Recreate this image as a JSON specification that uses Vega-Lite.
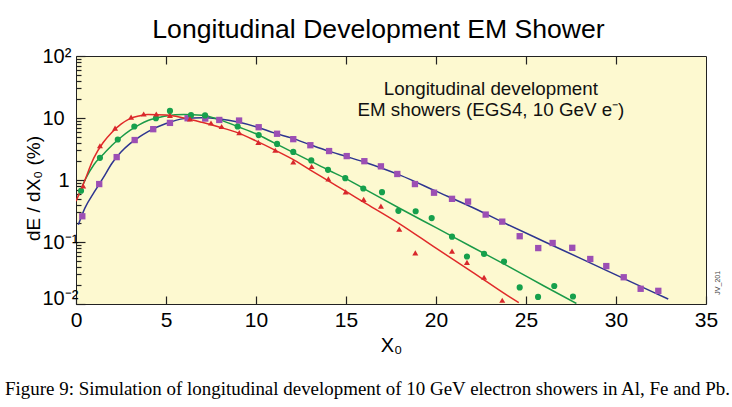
{
  "$schema": "https://vega.github.io/schema/vega-lite/v6.json",
  "width": 630,
  "height": 248,
  "autosize": {"type": "none"},
  "padding": {"left": 76, "top": 56, "right": 26, "bottom": 103},
  "background": "white",
  "config": {
    "font": "Liberation Sans",
    "view": {"fill": "#fdf9d0", "stroke": "#222222", "strokeWidth": 1}
  },
  "title": {
    "text": "Figure 9: Simulation of longitudinal development of 10 GeV electron showers in Al, Fe and Pb.",
    "orient": "bottom",
    "anchor": "start",
    "frame": "group",
    "dx": -71,
    "offset": 25,
    "font": "Liberation Serif",
    "fontSize": 18.95,
    "fontWeight": "normal",
    "color": "#000000"
  },
  "datasets": {
    "points": [
      {"material": "Pb", "x0": 0.35, "dE": 0.26}, {"material": "Pb", "x0": 1.29, "dE": 0.86}, {"material": "Pb", "x0": 2.26, "dE": 2.34}, {"material": "Pb", "x0": 3.26, "dE": 4.41}, {"material": "Pb", "x0": 4.29, "dE": 6.6}, {"material": "Pb", "x0": 5.22, "dE": 8.34}, {"material": "Pb", "x0": 6.2, "dE": 9.9}, {"material": "Pb", "x0": 7.18, "dE": 9.8}, {"material": "Pb", "x0": 7.96, "dE": 9.3}, {"material": "Pb", "x0": 9.06, "dE": 9.1}, {"material": "Pb", "x0": 10.15, "dE": 7.1}, {"material": "Pb", "x0": 11.17, "dE": 5.57}, {"material": "Pb", "x0": 12.07, "dE": 4.56}, {"material": "Pb", "x0": 13.02, "dE": 3.64}, {"material": "Pb", "x0": 14.06, "dE": 2.93}, {"material": "Pb", "x0": 15.04, "dE": 2.43}, {"material": "Pb", "x0": 16.02, "dE": 2.01}, {"material": "Pb", "x0": 16.94, "dE": 1.66}, {"material": "Pb", "x0": 17.85, "dE": 1.25}, {"material": "Pb", "x0": 18.83, "dE": 0.86}, {"material": "Pb", "x0": 19.89, "dE": 0.624}, {"material": "Pb", "x0": 20.89, "dE": 0.497}, {"material": "Pb", "x0": 21.78, "dE": 0.448}, {"material": "Pb", "x0": 22.76, "dE": 0.277}, {"material": "Pb", "x0": 23.68, "dE": 0.213}, {"material": "Pb", "x0": 24.65, "dE": 0.124}, {"material": "Pb", "x0": 25.68, "dE": 0.0798}, {"material": "Pb", "x0": 26.48, "dE": 0.0964}, {"material": "Pb", "x0": 27.57, "dE": 0.0806}, {"material": "Pb", "x0": 28.57, "dE": 0.0532}, {"material": "Pb", "x0": 29.46, "dE": 0.0409}, {"material": "Pb", "x0": 30.43, "dE": 0.027}, {"material": "Pb", "x0": 31.37, "dE": 0.0176}, {"material": "Pb", "x0": 32.35, "dE": 0.0163},
      {"material": "Fe", "x0": 0.28, "dE": 0.67}, {"material": "Fe", "x0": 1.33, "dE": 2.28}, {"material": "Fe", "x0": 2.32, "dE": 4.5}, {"material": "Fe", "x0": 3.24, "dE": 7.3}, {"material": "Fe", "x0": 4.44, "dE": 9.9}, {"material": "Fe", "x0": 5.22, "dE": 13.0}, {"material": "Fe", "x0": 6.39, "dE": 11.1}, {"material": "Fe", "x0": 7.17, "dE": 11.0}, {"material": "Fe", "x0": 8.98, "dE": 7.3}, {"material": "Fe", "x0": 10.15, "dE": 5.3}, {"material": "Fe", "x0": 11.17, "dE": 3.82}, {"material": "Fe", "x0": 12.07, "dE": 2.84}, {"material": "Fe", "x0": 13.07, "dE": 2.07}, {"material": "Fe", "x0": 14.0, "dE": 1.46}, {"material": "Fe", "x0": 14.96, "dE": 1.07}, {"material": "Fe", "x0": 15.96, "dE": 0.73}, {"material": "Fe", "x0": 17.0, "dE": 0.636}, {"material": "Fe", "x0": 17.91, "dE": 0.318}, {"material": "Fe", "x0": 18.87, "dE": 0.313}, {"material": "Fe", "x0": 19.76, "dE": 0.243}, {"material": "Fe", "x0": 20.89, "dE": 0.122}, {"material": "Fe", "x0": 21.72, "dE": 0.0583}, {"material": "Fe", "x0": 22.67, "dE": 0.0643}, {"material": "Fe", "x0": 23.78, "dE": 0.0483}, {"material": "Fe", "x0": 24.65, "dE": 0.0185}, {"material": "Fe", "x0": 25.67, "dE": 0.013}, {"material": "Fe", "x0": 26.57, "dE": 0.0195}, {"material": "Fe", "x0": 27.61, "dE": 0.0132},
      {"material": "Al", "x0": 0.4, "dE": 0.8}, {"material": "Al", "x0": 1.33, "dE": 3.57}, {"material": "Al", "x0": 2.17, "dE": 6.86}, {"material": "Al", "x0": 3.06, "dE": 10.3}, {"material": "Al", "x0": 3.76, "dE": 11.6}, {"material": "Al", "x0": 4.46, "dE": 11.6}, {"material": "Al", "x0": 5.22, "dE": 11.0}, {"material": "Al", "x0": 6.33, "dE": 9.7}, {"material": "Al", "x0": 7.5, "dE": 8.3}, {"material": "Al", "x0": 8.09, "dE": 7.3}, {"material": "Al", "x0": 9.07, "dE": 5.8}, {"material": "Al", "x0": 10.13, "dE": 4.04}, {"material": "Al", "x0": 11.07, "dE": 3.02}, {"material": "Al", "x0": 12.07, "dE": 1.95}, {"material": "Al", "x0": 13.09, "dE": 1.65}, {"material": "Al", "x0": 14.02, "dE": 1.04}, {"material": "Al", "x0": 14.98, "dE": 0.643}, {"material": "Al", "x0": 15.98, "dE": 0.488}, {"material": "Al", "x0": 16.94, "dE": 0.379}, {"material": "Al", "x0": 17.96, "dE": 0.161}, {"material": "Al", "x0": 18.85, "dE": 0.0668}, {"material": "Al", "x0": 20.89, "dE": 0.0712}, {"material": "Al", "x0": 21.72, "dE": 0.047}, {"material": "Al", "x0": 22.67, "dE": 0.027}, {"material": "Al", "x0": 23.68, "dE": 0.0115}
    ],
    "curves": [
      {"material": "Pb", "x0": 0.13, "dE": 0.19}, {"material": "Pb", "x0": 0.5, "dE": 0.355}, {"material": "Pb", "x0": 1, "dE": 0.631}, {"material": "Pb", "x0": 1.5, "dE": 1.07}, {"material": "Pb", "x0": 2, "dE": 1.86}, {"material": "Pb", "x0": 2.5, "dE": 2.82}, {"material": "Pb", "x0": 3, "dE": 3.85}, {"material": "Pb", "x0": 3.5, "dE": 4.9}, {"material": "Pb", "x0": 4, "dE": 6.03}, {"material": "Pb", "x0": 5, "dE": 8.13}, {"material": "Pb", "x0": 6, "dE": 9.77}, {"material": "Pb", "x0": 7, "dE": 10.1}, {"material": "Pb", "x0": 8, "dE": 9.66}, {"material": "Pb", "x0": 9, "dE": 8.61}, {"material": "Pb", "x0": 10, "dE": 7.24}, {"material": "Pb", "x0": 11, "dE": 5.75}, {"material": "Pb", "x0": 12, "dE": 4.73}, {"material": "Pb", "x0": 13, "dE": 3.72}, {"material": "Pb", "x0": 14, "dE": 2.95}, {"material": "Pb", "x0": 15, "dE": 2.4}, {"material": "Pb", "x0": 16, "dE": 1.95}, {"material": "Pb", "x0": 17, "dE": 1.55}, {"material": "Pb", "x0": 18, "dE": 1.2}, {"material": "Pb", "x0": 20, "dE": 0.66}, {"material": "Pb", "x0": 22, "dE": 0.363}, {"material": "Pb", "x0": 24, "dE": 0.19}, {"material": "Pb", "x0": 26, "dE": 0.102}, {"material": "Pb", "x0": 28, "dE": 0.055}, {"material": "Pb", "x0": 30, "dE": 0.0295}, {"material": "Pb", "x0": 32, "dE": 0.0158}, {"material": "Pb", "x0": 32.9, "dE": 0.012},
      {"material": "Fe", "x0": 0.13, "dE": 0.55}, {"material": "Fe", "x0": 0.5, "dE": 1.0}, {"material": "Fe", "x0": 1, "dE": 1.78}, {"material": "Fe", "x0": 1.5, "dE": 2.57}, {"material": "Fe", "x0": 2, "dE": 3.63}, {"material": "Fe", "x0": 2.5, "dE": 4.9}, {"material": "Fe", "x0": 3, "dE": 6.31}, {"material": "Fe", "x0": 3.5, "dE": 7.76}, {"material": "Fe", "x0": 4, "dE": 9.12}, {"material": "Fe", "x0": 4.5, "dE": 10.0}, {"material": "Fe", "x0": 5, "dE": 10.8}, {"material": "Fe", "x0": 6, "dE": 11.35}, {"material": "Fe", "x0": 7, "dE": 11.1}, {"material": "Fe", "x0": 8, "dE": 9.33}, {"material": "Fe", "x0": 9, "dE": 7.24}, {"material": "Fe", "x0": 10, "dE": 5.56}, {"material": "Fe", "x0": 11, "dE": 3.98}, {"material": "Fe", "x0": 12, "dE": 2.85}, {"material": "Fe", "x0": 13, "dE": 2.04}, {"material": "Fe", "x0": 14, "dE": 1.45}, {"material": "Fe", "x0": 15, "dE": 1.05}, {"material": "Fe", "x0": 16, "dE": 0.724}, {"material": "Fe", "x0": 17, "dE": 0.5}, {"material": "Fe", "x0": 18, "dE": 0.347}, {"material": "Fe", "x0": 20, "dE": 0.17}, {"material": "Fe", "x0": 22, "dE": 0.083}, {"material": "Fe", "x0": 24, "dE": 0.0407}, {"material": "Fe", "x0": 26, "dE": 0.0195}, {"material": "Fe", "x0": 27.8, "dE": 0.0102},
      {"material": "Al", "x0": 0, "dE": 0.457}, {"material": "Al", "x0": 0.4, "dE": 0.85}, {"material": "Al", "x0": 1, "dE": 2.29}, {"material": "Al", "x0": 1.5, "dE": 3.98}, {"material": "Al", "x0": 2, "dE": 5.89}, {"material": "Al", "x0": 2.5, "dE": 7.94}, {"material": "Al", "x0": 3, "dE": 9.77}, {"material": "Al", "x0": 3.5, "dE": 10.8}, {"material": "Al", "x0": 4, "dE": 11.35}, {"material": "Al", "x0": 5, "dE": 11.2}, {"material": "Al", "x0": 6, "dE": 10.0}, {"material": "Al", "x0": 7, "dE": 8.51}, {"material": "Al", "x0": 8, "dE": 7.08}, {"material": "Al", "x0": 9, "dE": 5.75}, {"material": "Al", "x0": 10, "dE": 4.27}, {"material": "Al", "x0": 11, "dE": 3.09}, {"material": "Al", "x0": 12, "dE": 2.19}, {"material": "Al", "x0": 13, "dE": 1.46}, {"material": "Al", "x0": 14, "dE": 0.977}, {"material": "Al", "x0": 15, "dE": 0.653}, {"material": "Al", "x0": 16, "dE": 0.437}, {"material": "Al", "x0": 18, "dE": 0.195}, {"material": "Al", "x0": 20, "dE": 0.0794}, {"material": "Al", "x0": 22, "dE": 0.0331}, {"material": "Al", "x0": 24, "dE": 0.0135}, {"material": "Al", "x0": 24.6, "dE": 0.0105}
    ],
    "notes": [
      {"x0": 23.05, "dE": 29, "label": "Longitudinal development\nEM showers (EGS4, 10 GeV e⁻)", "kind": "note"},
      {"x0": 35.67, "dE": 0.022, "label": "JV_201", "kind": "id"}
    ]
  },
  "layer": [
    {
      "data": {"name": "curves"},
      "mark": {"type": "line", "interpolate": "monotone", "strokeWidth": 1.5, "clip": true},
      "encoding": {
        "x": {
          "field": "x0", "type": "quantitative",
          "scale": {"domain": [0, 35], "nice": false, "zero": false},
          "axis": {
            "orient": "bottom", "values": [0, 5, 10, 15, 20, 25, 30, 35], "domain": false,
            "tickSize": -8, "tickColor": "#222222", "tickWidth": 1.2,
            "labelFontSize": 21, "labelColor": "#000000", "labelPadding": 13, "labelFont": "Liberation Sans",
            "labelFlush": false, "labelOverlap": false, "labelBound": false,
            "title": "X₀", "titleFontSize": 20, "titleFontWeight": "normal", "titleColor": "#000000",
            "titleY": 41, "titleBaseline": "middle", "titleFont": "Liberation Sans",
            "grid": false
          }
        },
        "y": {
          "field": "dE", "type": "quantitative",
          "scale": {"type": "log", "domain": [0.01, 100], "nice": false},
          "axis": {
            "values": [0.01, 0.02, 0.03, 0.04, 0.05, 0.06, 0.07, 0.08, 0.09, 0.1, 0.2, 0.3, 0.4, 0.5, 0.6, 0.7, 0.8, 0.9, 1, 2, 3, 4, 5, 6, 7, 8, 9, 10, 20, 30, 40, 50, 60, 70, 80, 90, 100],
            "labelExpr": "datum.value == 100 ? '10²' : datum.value == 10 ? '10' : datum.value == 1 ? '1' : datum.value == 0.1 ? '10⁻¹' : datum.value == 0.01 ? '10⁻²' : ''",
            "domain": false, "grid": false,
            "tickSize": {"condition": {"test": "datum.value == 100 || datum.value == 10 || datum.value == 1 || datum.value == 0.1 || datum.value == 0.01", "value": -9}, "value": -5},
            "tickColor": "#222222", "tickWidth": 1.2,
            "labelFontSize": 20, "labelColor": "#000000", "labelFont": "Liberation Sans",
            "labelAlign": {"condition": {"test": "datum.value == 1", "value": "right"}, "value": "left"},
            "labelBaseline": {"condition": {"test": "datum.value == 0.01", "value": "alphabetic"}, "value": "middle"},
            "labelPadding": {"condition": {"test": "datum.value == 1", "value": 16}, "value": 43},
            "labelOverlap": false, "labelBound": false, "labelFlush": false,
            "title": "dE / dX₀ (%)", "titleFontSize": 19, "titleFontWeight": "normal", "titleColor": "#000000",
            "titleX": -43, "titleY": 132, "titleBaseline": "middle", "titleAlign": "center", "titleAngle": 270, "titleFont": "Liberation Sans"
          }
        },
        "stroke": {
          "field": "material", "type": "nominal",
          "scale": {"domain": ["Pb", "Fe", "Al"], "range": ["#2e3590", "#1a9a48", "#e02a2a"]},
          "legend": null
        },
        "detail": {"field": "material", "type": "nominal"}
      }
    },
    {
      "data": {"name": "points"},
      "mark": {"type": "point", "filled": true, "opacity": 1, "clip": true},
      "encoding": {
        "x": {
          "field": "x0", "type": "quantitative",
          "axis": {
            "orient": "top", "values": [5, 10, 15, 20, 25, 30], "domain": false, "labels": false,
            "tickSize": -8, "tickColor": "#222222", "tickWidth": 1.2, "grid": false,
            "title": "Longitudinal Development EM Shower", "titleFontSize": 26.6, "titleFontWeight": "normal",
            "titleColor": "#000000", "titlePadding": 12, "titleX": 302, "titleFont": "Liberation Sans"
          }
        },
        "y": {"field": "dE", "type": "quantitative"},
        "color": {
          "field": "material", "type": "nominal",
          "scale": {"domain": ["Pb", "Fe", "Al"], "range": ["#9c4fb4", "#16a04c", "#d8282c"]},
          "legend": {
            "title": null, "orient": "none", "legendX": 519, "legendY": 89,
            "labelFontSize": 19, "labelFont": "Liberation Sans", "labelOffset": 18,
            "symbolSize": 169, "rowPadding": 4, "symbolStrokeWidth": 1.3,
            "encode": {
              "symbols": {"update": {
                "shape": {"signal": "datum.value == 'Pb' ? 'M-2,0H2M-0.34,-0.34H0.34V0.34H-0.34Z' : datum.value == 'Fe' ? 'M-2,0H2M0.36,0A0.36,0.36 0 1,1 -0.36,0A0.36,0.36 0 1,1 0.36,0Z' : 'M-2,0H2M0,-0.4L0.36,0.22H-0.36Z'"},
                "stroke": {"scale": "color", "field": "value"}
              }},
              "labels": {"update": {"fill": {"scale": "color", "field": "value"}}}
            }
          }
        },
        "shape": {
          "field": "material", "type": "nominal",
          "scale": {"domain": ["Pb", "Fe", "Al"], "range": ["square", "circle", "triangle-up"]},
          "legend": null
        },
        "size": {
          "field": "material", "type": "nominal",
          "scale": {"domain": ["Pb", "Fe", "Al"], "range": [40, 36, 26]},
          "legend": null
        }
      }
    },
    {
      "data": {"name": "notes"},
      "transform": [{"filter": "datum.kind == 'note'"}],
      "mark": {"type": "text", "align": "center", "baseline": "middle", "lineBreak": "\n", "lineHeight": 21, "fontSize": 18.8, "font": "Liberation Sans", "color": "#111111"},
      "encoding": {
        "x": {"field": "x0", "type": "quantitative", "axis": null},
        "y": {"field": "dE", "type": "quantitative"},
        "text": {"field": "label"}
      }
    },
    {
      "data": {"name": "notes"},
      "transform": [{"filter": "datum.kind == 'id'"}],
      "mark": {"type": "text", "align": "center", "baseline": "middle", "angle": 270, "fontSize": 7, "font": "Liberation Sans", "color": "#444444", "clip": false},
      "encoding": {
        "x": {"field": "x0", "type": "quantitative", "axis": null},
        "y": {"field": "dE", "type": "quantitative"},
        "text": {"field": "label"}
      }
    }
  ],
  "resolve": {"axis": {"x": "independent"}}
}
